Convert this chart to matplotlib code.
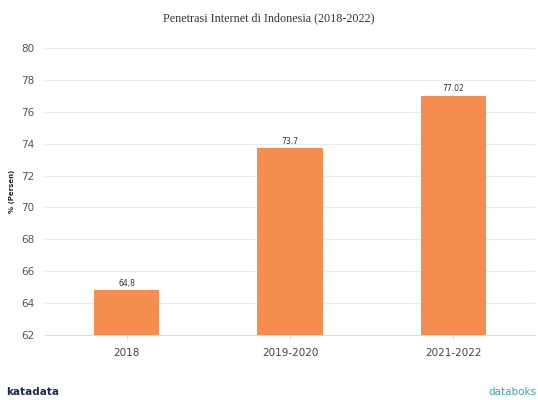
import matplotlib
matplotlib.use("Agg")
import matplotlib.pyplot as plt

categories = ["2018", "2019-2020", "2021-2022"]
values = [64.8, 73.7, 77.02]
labels = ["64,8", "73.7", "77.02"]
yticks = [62, 64, 66, 68, 70, 72, 74, 76, 78, 80]

fig = plt.figure(figsize=(5.38, 4.0), dpi=100)
ax = fig.add_axes([0.084, 0.1625, 0.91, 0.7175])

x = range(len(categories))
bars = ax.bar(x, values, width=0.4, color="#F58D4E", zorder=3)
for xi, v, lab in zip(x, values, labels):
    ax.text(xi, v + 0.15, lab, ha="center", va="bottom", fontsize=5.5, color="#333333")

ax.set_xlim(-0.5, 2.5)
ax.set_ylim(62, 80)
ax.set_yticks(yticks)
ax.set_xticks(list(x))
ax.set_xticklabels(categories)
ax.grid(axis="y", color="#EBEBEB", linewidth=0.8, zorder=0)
for s in ["top", "right", "left"]:
    ax.spines[s].set_visible(False)
ax.spines["bottom"].set_color("#DDDDDD")
ax.tick_params(axis="y", length=0, labelsize=7.5, labelcolor="#555555", pad=8)
ax.tick_params(axis="x", length=3, color="#DDDDDD", labelsize=7.5, labelcolor="#444444", pad=6)
ax.set_ylabel("% (Persen)", fontsize=5, fontweight="bold", color="#222222")
ax.yaxis.set_label_coords(-0.062, 0.5)

fig.text(0.5, 0.955, "Penetrasi Internet di Indonesia (2018-2022)", ha="center", va="center",
         fontsize=8.7, family="Liberation Serif", color="#333333")
fig.text(0.012, 0.008, "katadata", ha="left", va="bottom", fontsize=7.5, color="#1B2A4E",
         fontweight="bold")
fig.text(0.998, 0.008, "databoks", ha="right", va="bottom", fontsize=7.5, color="#3BA7A0")

fig.savefig("out.png", dpi=100)
